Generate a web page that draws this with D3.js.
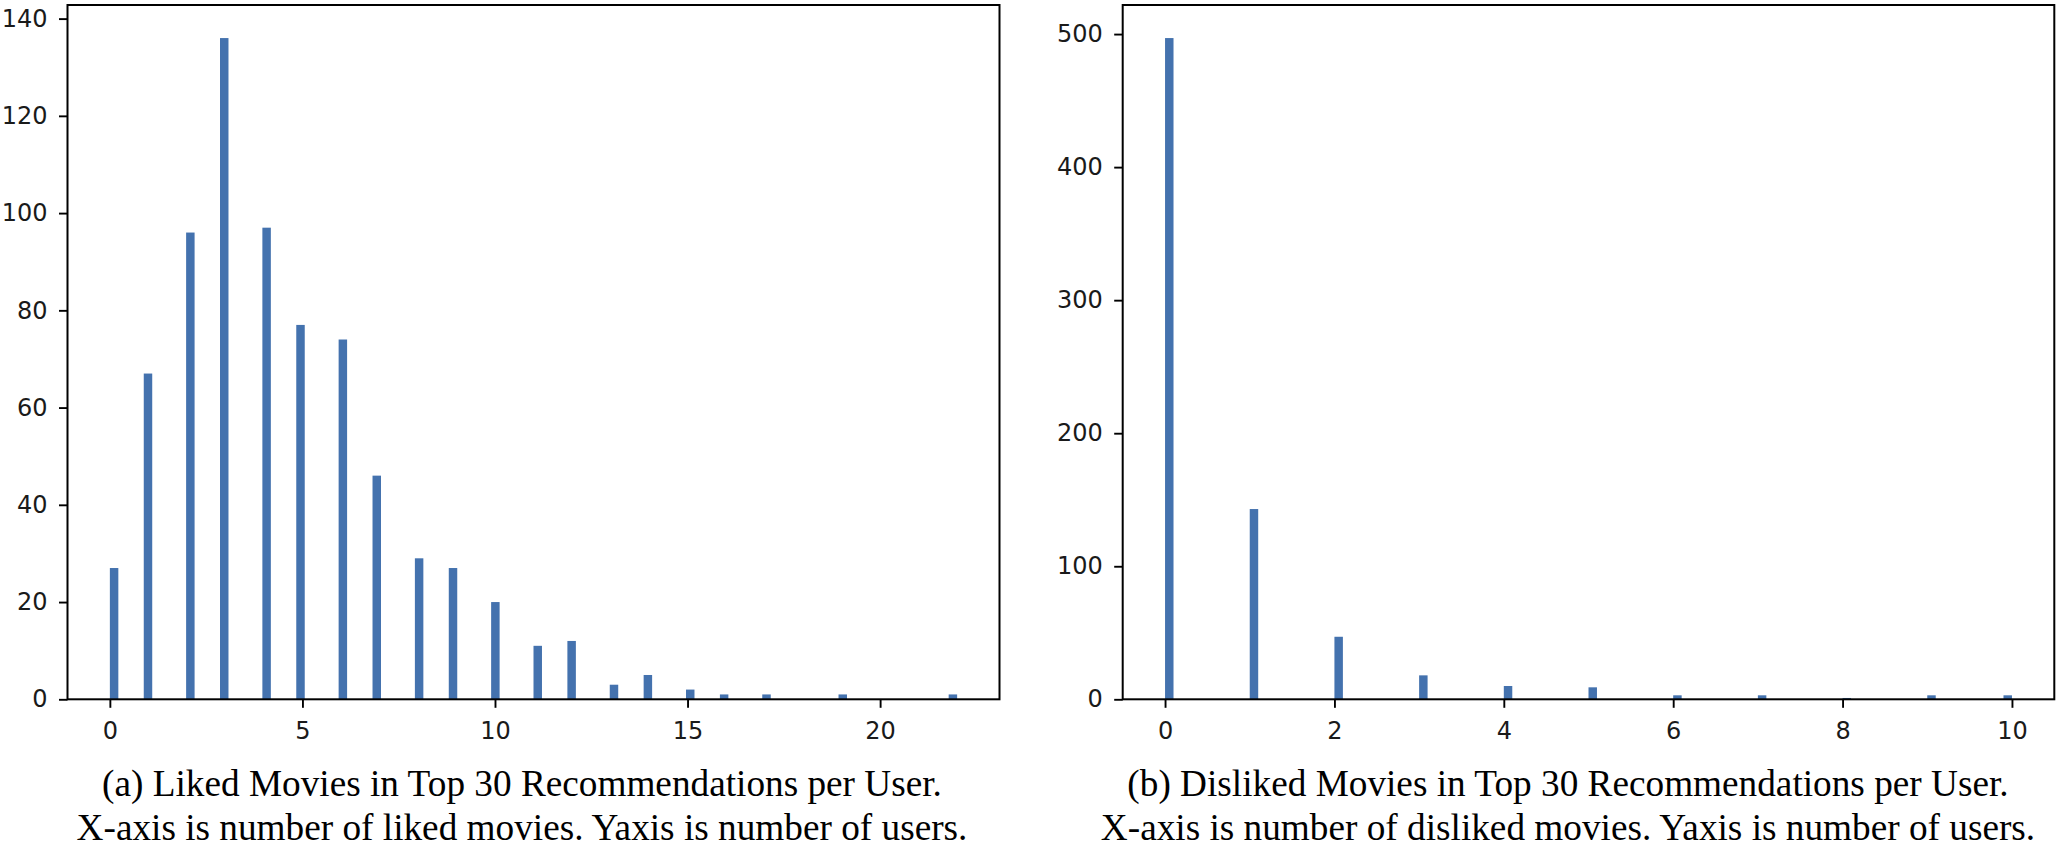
<!DOCTYPE html>
<html>
  <head>
    <meta charset="utf-8">
    <style>
      body { margin: 0; background: #fff; }
      .tick text { font-family: "DejaVu Sans", sans-serif; font-size: 24px; fill: #1a1a1a; }
      .caption { font-family: "Liberation Serif", "Times New Roman", serif; font-size: 37.25px; fill: #000; }
    </style>
    <script type="text/javascript" src="https://d3js.org/d3.v7.min.js"></script>
  </head>
  <body>
    <svg></svg>
    <script>
    // liked movies per user (value -> number of users)
    var likedValues = [0, 1, 2, 3, 4, 5, 6, 7, 8, 9, 10, 11, 12, 13, 14, 15, 16, 17, 18, 19, 20, 21, 22];
    var likedCounts = [27, 67, 96, 136, 97, 77, 74, 46, 29, 27, 20, 11, 12, 3, 5, 2, 1, 1, 0, 1, 0, 0, 1];
    var likedXTicks = [0, 5, 10, 15, 20];
    var likedYTicks = [0, 20, 40, 60, 80, 100, 120, 140];

    // disliked movies per user
    var dislikedValues = [0, 1, 2, 3, 4, 5, 6, 7, 8, 9, 10];
    var dislikedCounts = [497, 143, 47, 18, 10, 9, 3, 3, 1, 3, 3];
    var dislikedXTicks = [0, 2, 4, 6, 8, 10];
    var dislikedYTicks = [0, 100, 200, 300, 400, 500];

    var captionsA = ["(a) Liked Movies in Top 30 Recommendations per User.",
                     "X-axis is number of liked movies. Yaxis is number of users."];
    var captionsB = ["(b) Disliked Movies in Top 30 Recommendations per User.",
                     "X-axis is number of disliked movies. Yaxis is number of users."];

    var width = 2062;
    var height = 848;
    var nBins = 100;
    var barColor = "#4472ae";

    var svg = d3.select("svg")
        .attr("width", width)
        .attr("height", height);

    svg.append("rect")
        .attr("width", width)
        .attr("height", height)
        .attr("fill", "#fff");

    // same binning as a 100-bin histogram over [min, max]
    function makeBins(values, counts) {
        var lo = d3.min(values), hi = d3.max(values);
        var w = (hi - lo) / nBins;
        var bins = [];
        values.forEach(function(v, i) {
            if (!counts[i]) return;
            var idx = Math.min(Math.floor((v - lo) / w + 1e-9), nBins - 1);
            bins.push({x0: lo + idx * w, x1: lo + (idx + 1) * w, count: counts[i]});
        });
        return {bins: bins, lo: lo, hi: hi};
    }

    function drawHist(box, values, counts, xTicks, yTicks, captions, capX) {
        var h = makeBins(values, counts);
        var pad = (h.hi - h.lo) * 0.05;
        var yMax = d3.max(counts) * 1.05;

        var x = d3.scaleLinear()
            .domain([h.lo - pad, h.hi + pad])
            .range([box.left, box.right]);
        var y = d3.scaleLinear()
            .domain([0, yMax])
            .range([box.bottom, box.top]);

        var g = svg.append("g");

        g.selectAll("rect.bar")
            .data(h.bins)
            .enter().append("rect")
              .attr("class", "bar")
              .attr("x", function(d) { return x(d.x0); })
              .attr("width", function(d) { return x(d.x1) - x(d.x0); })
              .attr("y", function(d) { return y(d.count); })
              .attr("height", function(d) { return y(0) - y(d.count); })
              .attr("fill", barColor);

        var xAxis = g.append("g")
            .attr("transform", "translate(0," + box.bottom + ")")
            .call(d3.axisBottom(x).tickValues(xTicks).tickSize(8.5).tickPadding(14)
                  .tickFormat(d3.format("d")));
        var yAxis = g.append("g")
            .attr("transform", "translate(" + box.left + ",0)")
            .call(d3.axisLeft(y).tickValues(yTicks).tickSize(8.5).tickPadding(11.5)
                  .tickFormat(d3.format("d")));
        [xAxis, yAxis].forEach(function(a) {
            a.select(".domain").remove();
            a.selectAll(".tick line").attr("stroke", "#000").attr("stroke-width", 1.9);
        });

        // frame
        g.append("rect")
            .attr("x", box.left)
            .attr("y", box.top)
            .attr("width", box.right - box.left)
            .attr("height", box.bottom - box.top)
            .attr("fill", "none")
            .attr("stroke", "#000")
            .attr("stroke-width", 2);

        g.selectAll("text.caption")
            .data(captions)
            .enter().append("text")
              .attr("class", "caption")
              .attr("x", capX)
              .attr("y", function(d, i) { return 795.5 + i * 44; })
              .attr("text-anchor", "middle")
              .text(function(d) { return d; });
    }

    drawHist({left: 67.5, right: 999.5, top: 5, bottom: 699.3},
             likedValues, likedCounts, likedXTicks, likedYTicks, captionsA, 522);
    drawHist({left: 1122.7, right: 2054.3, top: 5, bottom: 699.3},
             dislikedValues, dislikedCounts, dislikedXTicks, dislikedYTicks, captionsB, 1568);
    </script>
  </body>
</html>
